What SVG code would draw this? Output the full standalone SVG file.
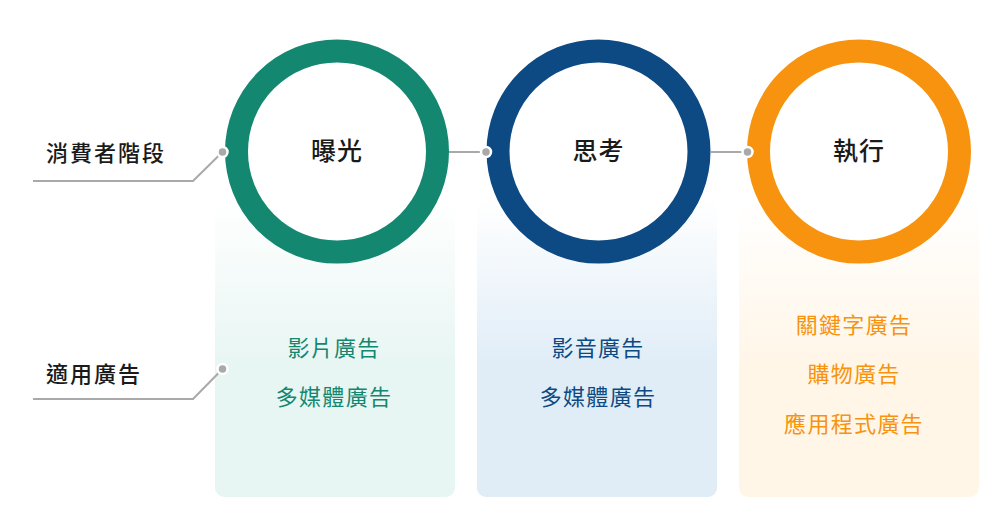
<svg xmlns="http://www.w3.org/2000/svg" width="1000" height="514" viewBox="0 0 1000 514">
<defs>
<linearGradient id="gG" x1="0" y1="0" x2="0" y2="1">
<stop offset="0" stop-color="#E8F6F3" stop-opacity="0"/>
<stop offset="0.55" stop-color="#E8F6F3" stop-opacity="1"/>
<stop offset="1" stop-color="#E8F6F3" stop-opacity="1"/>
</linearGradient>
<linearGradient id="gB" x1="0" y1="0" x2="0" y2="1">
<stop offset="0" stop-color="#E0EDF7" stop-opacity="0"/>
<stop offset="0.55" stop-color="#E0EDF7" stop-opacity="1"/>
<stop offset="1" stop-color="#E0EDF7" stop-opacity="1"/>
</linearGradient>
<linearGradient id="gO" x1="0" y1="0" x2="0" y2="1">
<stop offset="0" stop-color="#FFF6E8" stop-opacity="0"/>
<stop offset="0.55" stop-color="#FFF6E8" stop-opacity="1"/>
<stop offset="1" stop-color="#FFF6E8" stop-opacity="1"/>
</linearGradient>
</defs>
<style>
text{font-family:"Noto Sans CJK TC","Noto Sans CJK SC",sans-serif;}
.lbl{font-size:22px;font-weight:500;fill:#1a1a1a;letter-spacing:2px;}
.ttl{font-size:25px;font-weight:500;fill:#1a1a1a;text-anchor:middle;letter-spacing:1px;}
.item{font-size:22px;font-weight:400;text-anchor:middle;letter-spacing:1.3px;}
.ring{fill:#fff;stroke-width:23;}
.ln{fill:none;stroke:#A9A9A9;stroke-width:2;}
.dot{fill:#A9A9A9;stroke:#fff;stroke-width:2.5;}
</style>
<rect width="1000" height="514" fill="#fff"/>
<g id="card-exposure">
<rect x="215" y="200" width="240" height="297" rx="9" fill="url(#gG)"/>
<text class="item" x="334" y="356" fill="#13876F">影片廣告</text>
<text class="item" x="334" y="405" fill="#13876F">多媒體廣告</text>
</g>
<g id="card-think">
<rect x="477" y="200" width="240" height="297" rx="9" fill="url(#gB)"/>
<text class="item" x="598" y="356" fill="#0D4A84">影音廣告</text>
<text class="item" x="598" y="405" fill="#0D4A84">多媒體廣告</text>
</g>
<g id="card-execute">
<rect x="739" y="200" width="240" height="297" rx="9" fill="url(#gO)"/>
<text class="item" x="854" y="333" fill="#F7930E">關鍵字廣告</text>
<text class="item" x="854" y="382" fill="#F7930E">購物廣告</text>
<text class="item" x="854" y="432" fill="#F7930E">應用程式廣告</text>
</g>
<g id="node-exposure">
<circle class="ring" cx="337" cy="151.5" r="100.5" stroke="#13876F"/>
<text class="ttl" x="337" y="160">曝光</text>
</g>
<g id="node-think">
<circle class="ring" cx="598.5" cy="151.5" r="100.5" stroke="#0D4A84"/>
<text class="ttl" x="598.5" y="160">思考</text>
</g>
<g id="node-execute">
<circle class="ring" cx="859" cy="151.5" r="100.5" stroke="#F7930E"/>
<text class="ttl" x="859" y="160">執行</text>
</g>
<g id="label-stage">
<text class="lbl" x="46" y="161">消費者階段</text>
</g>
<g id="label-ads">
<text class="lbl" x="46" y="382">適用廣告</text>
</g>
<g id="connectors">
<polyline class="ln" points="33,181 193,181 222.5,152"/>
<polyline class="ln" points="33,399 193,399 222.5,369"/>
<line class="ln" x1="449" y1="152" x2="486" y2="152"/>
<line class="ln" x1="711" y1="152" x2="747" y2="152"/>
<circle class="dot" cx="222.5" cy="152" r="5"/>
<circle class="dot" cx="222.5" cy="369" r="5"/>
<circle class="dot" cx="486" cy="152" r="5"/>
<circle class="dot" cx="747.5" cy="152" r="5"/>
</g>
</svg>
